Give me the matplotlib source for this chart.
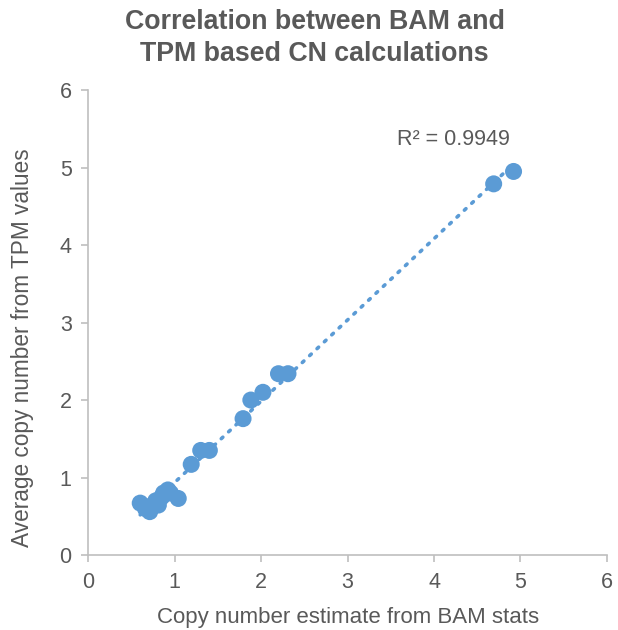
import matplotlib
matplotlib.use("Agg")
import matplotlib.pyplot as plt
import numpy as np

plt.rcParams['font.family'] = ['Liberation Sans', 'DejaVu Sans']

title_lines = ["Correlation between BAM and", "TPM based CN calculations"]
xlabel = "Copy number estimate from BAM stats"
ylabel = "Average copy number from TPM values"
bam_cn = [0.60, 0.71, 0.66, 0.75, 0.81, 0.78, 0.85, 0.87, 0.92, 0.95, 1.04,
          1.19, 1.30, 1.40, 1.79, 1.88, 2.02, 2.20, 2.31, 4.69, 4.92]
tpm_cn = [0.67, 0.56, 0.60, 0.65, 0.645, 0.70, 0.75, 0.80, 0.84, 0.80, 0.73,
          1.17, 1.35, 1.35, 1.76, 2.00, 2.10, 2.34, 2.34, 4.79, 4.95]
r2_label = "R² = 0.9949"
ticks = [0, 1, 2, 3, 4, 5, 6]

blue = "#5B9BD5"
grey = "#595959"
axis_grey = "#BFBFBF"

fig = plt.figure(figsize=(6.18, 6.30), dpi=100)
ax = fig.add_axes([0.143, 0.119, 0.839, 0.738])

x = np.array(bam_cn)
y = np.array(tpm_cn)
coef = np.polyfit(x, y, 1)
xl = np.array([x.min(), x.max()])
ax.plot(xl, np.polyval(coef, xl), linestyle=(0, (0.6, 2.2)), color=blue,
        linewidth=2.6, dash_capstyle='round', zorder=2)
ax.scatter(x, y, s=150, color=blue, edgecolors='none', zorder=3)

ax.text(3.57, 5.36, r2_label, fontsize=15.5, color=grey, va='center', ha='left')

ax.set_xlim(0, 6)
ax.set_ylim(0, 6)
ax.set_xticks(ticks)
ax.set_yticks(ticks)
ax.tick_params(axis='both', colors=axis_grey, labelcolor=grey, labelsize=15.5,
               length=5, width=1.2, direction='out', pad=7)
for s in ['top', 'right']:
    ax.spines[s].set_visible(False)
for s in ['left', 'bottom']:
    ax.spines[s].set_color(axis_grey)
    ax.spines[s].set_linewidth(1.2)

ax.set_xlabel(xlabel, fontsize=16, color=grey, labelpad=10)
ax.set_ylabel(ylabel, fontsize=16.3, color=grey)
ax.yaxis.set_label_coords(-0.105, 0.447)

H = 630.0
for line, base_px in zip(title_lines, [29, 61]):
    fig.text(0.509, 1 - base_px / H, line, fontsize=19.3, fontweight='bold',
             color=grey, ha='center', va='baseline')

fig.savefig("out.png", dpi=100)
